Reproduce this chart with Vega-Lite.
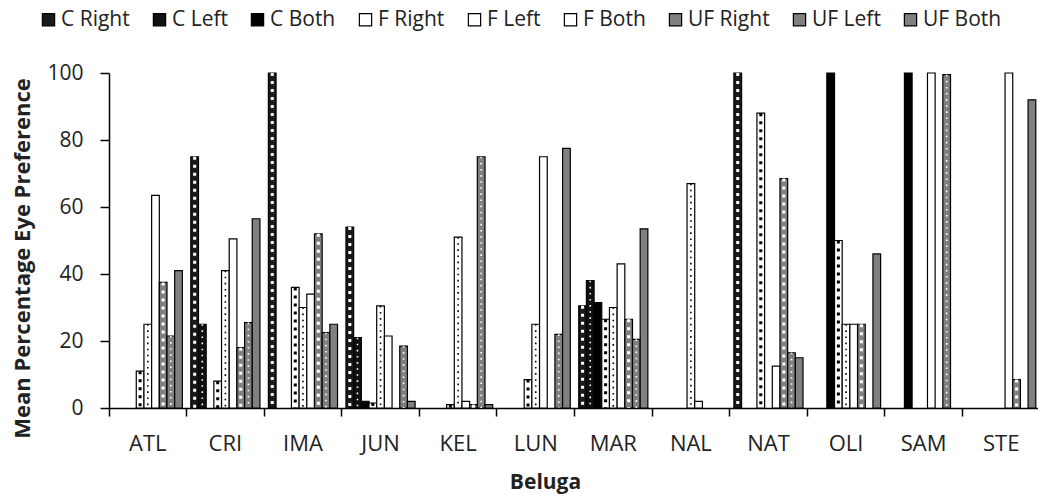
{
  "$schema": "https://vega.github.io/schema/vega-lite/v6.json",
  "autosize": {"type": "none"},
  "padding": {"left": 109, "top": 73, "right": 0, "bottom": 89},
  "width": 931,
  "height": 335,
  "background": "white",
  "config": {
    "view": {"stroke": null},
    "font": "Open Sans",
    "axis": {"labelFont": "Open Sans", "titleFont": "Open Sans", "labelColor": "#222", "titleColor": "#222", "domainColor": "#000", "tickColor": "#000", "domainWidth": 1.5, "tickWidth": 1.5, "grid": false}
  },
  "data": {"values": [
    {"beluga": "ATL", "series": "C Right", "value": 0},
    {"beluga": "ATL", "series": "C Left", "value": 0},
    {"beluga": "ATL", "series": "C Both", "value": 0},
    {"beluga": "ATL", "series": "F Right", "value": 11},
    {"beluga": "ATL", "series": "F Left", "value": 25},
    {"beluga": "ATL", "series": "F Both", "value": 63.5},
    {"beluga": "ATL", "series": "UF Right", "value": 37.5},
    {"beluga": "ATL", "series": "UF Left", "value": 21.5},
    {"beluga": "ATL", "series": "UF Both", "value": 41},
    {"beluga": "CRI", "series": "C Right", "value": 75},
    {"beluga": "CRI", "series": "C Left", "value": 25},
    {"beluga": "CRI", "series": "C Both", "value": 0},
    {"beluga": "CRI", "series": "F Right", "value": 8},
    {"beluga": "CRI", "series": "F Left", "value": 41},
    {"beluga": "CRI", "series": "F Both", "value": 50.5},
    {"beluga": "CRI", "series": "UF Right", "value": 18},
    {"beluga": "CRI", "series": "UF Left", "value": 25.5},
    {"beluga": "CRI", "series": "UF Both", "value": 56.5},
    {"beluga": "IMA", "series": "C Right", "value": 100},
    {"beluga": "IMA", "series": "C Left", "value": 0},
    {"beluga": "IMA", "series": "C Both", "value": 0},
    {"beluga": "IMA", "series": "F Right", "value": 36},
    {"beluga": "IMA", "series": "F Left", "value": 30},
    {"beluga": "IMA", "series": "F Both", "value": 34},
    {"beluga": "IMA", "series": "UF Right", "value": 52},
    {"beluga": "IMA", "series": "UF Left", "value": 22.5},
    {"beluga": "IMA", "series": "UF Both", "value": 25},
    {"beluga": "JUN", "series": "C Right", "value": 54},
    {"beluga": "JUN", "series": "C Left", "value": 21},
    {"beluga": "JUN", "series": "C Both", "value": 2},
    {"beluga": "JUN", "series": "F Right", "value": 1.5},
    {"beluga": "JUN", "series": "F Left", "value": 30.5},
    {"beluga": "JUN", "series": "F Both", "value": 21.5},
    {"beluga": "JUN", "series": "UF Right", "value": 0},
    {"beluga": "JUN", "series": "UF Left", "value": 18.5},
    {"beluga": "JUN", "series": "UF Both", "value": 2},
    {"beluga": "KEL", "series": "C Right", "value": 0},
    {"beluga": "KEL", "series": "C Left", "value": 0},
    {"beluga": "KEL", "series": "C Both", "value": 0},
    {"beluga": "KEL", "series": "F Right", "value": 1},
    {"beluga": "KEL", "series": "F Left", "value": 51},
    {"beluga": "KEL", "series": "F Both", "value": 2},
    {"beluga": "KEL", "series": "UF Right", "value": 1},
    {"beluga": "KEL", "series": "UF Left", "value": 75},
    {"beluga": "KEL", "series": "UF Both", "value": 1},
    {"beluga": "LUN", "series": "C Right", "value": 0},
    {"beluga": "LUN", "series": "C Left", "value": 0},
    {"beluga": "LUN", "series": "C Both", "value": 0},
    {"beluga": "LUN", "series": "F Right", "value": 8.5},
    {"beluga": "LUN", "series": "F Left", "value": 25},
    {"beluga": "LUN", "series": "F Both", "value": 75},
    {"beluga": "LUN", "series": "UF Right", "value": 0},
    {"beluga": "LUN", "series": "UF Left", "value": 22},
    {"beluga": "LUN", "series": "UF Both", "value": 77.5},
    {"beluga": "MAR", "series": "C Right", "value": 30.5},
    {"beluga": "MAR", "series": "C Left", "value": 38},
    {"beluga": "MAR", "series": "C Both", "value": 31.5},
    {"beluga": "MAR", "series": "F Right", "value": 26.5},
    {"beluga": "MAR", "series": "F Left", "value": 30},
    {"beluga": "MAR", "series": "F Both", "value": 43},
    {"beluga": "MAR", "series": "UF Right", "value": 26.5},
    {"beluga": "MAR", "series": "UF Left", "value": 20.5},
    {"beluga": "MAR", "series": "UF Both", "value": 53.5},
    {"beluga": "NAL", "series": "C Right", "value": 0},
    {"beluga": "NAL", "series": "C Left", "value": 0},
    {"beluga": "NAL", "series": "C Both", "value": 0},
    {"beluga": "NAL", "series": "F Right", "value": 0},
    {"beluga": "NAL", "series": "F Left", "value": 67},
    {"beluga": "NAL", "series": "F Both", "value": 2},
    {"beluga": "NAL", "series": "UF Right", "value": 0},
    {"beluga": "NAL", "series": "UF Left", "value": 0},
    {"beluga": "NAL", "series": "UF Both", "value": 0},
    {"beluga": "NAT", "series": "C Right", "value": 100},
    {"beluga": "NAT", "series": "C Left", "value": 0},
    {"beluga": "NAT", "series": "C Both", "value": 0},
    {"beluga": "NAT", "series": "F Right", "value": 88},
    {"beluga": "NAT", "series": "F Left", "value": 0},
    {"beluga": "NAT", "series": "F Both", "value": 12.5},
    {"beluga": "NAT", "series": "UF Right", "value": 68.5},
    {"beluga": "NAT", "series": "UF Left", "value": 16.5},
    {"beluga": "NAT", "series": "UF Both", "value": 15},
    {"beluga": "OLI", "series": "C Right", "value": 0},
    {"beluga": "OLI", "series": "C Left", "value": 0},
    {"beluga": "OLI", "series": "C Both", "value": 100},
    {"beluga": "OLI", "series": "F Right", "value": 50},
    {"beluga": "OLI", "series": "F Left", "value": 25},
    {"beluga": "OLI", "series": "F Both", "value": 25},
    {"beluga": "OLI", "series": "UF Right", "value": 25},
    {"beluga": "OLI", "series": "UF Left", "value": 0},
    {"beluga": "OLI", "series": "UF Both", "value": 46},
    {"beluga": "SAM", "series": "C Right", "value": 0},
    {"beluga": "SAM", "series": "C Left", "value": 0},
    {"beluga": "SAM", "series": "C Both", "value": 100},
    {"beluga": "SAM", "series": "F Right", "value": 0},
    {"beluga": "SAM", "series": "F Left", "value": 0},
    {"beluga": "SAM", "series": "F Both", "value": 100},
    {"beluga": "SAM", "series": "UF Right", "value": 0},
    {"beluga": "SAM", "series": "UF Left", "value": 99.5},
    {"beluga": "SAM", "series": "UF Both", "value": 0},
    {"beluga": "STE", "series": "C Right", "value": 0},
    {"beluga": "STE", "series": "C Left", "value": 0},
    {"beluga": "STE", "series": "C Both", "value": 0},
    {"beluga": "STE", "series": "F Right", "value": 0},
    {"beluga": "STE", "series": "F Left", "value": 0},
    {"beluga": "STE", "series": "F Both", "value": 100},
    {"beluga": "STE", "series": "UF Right", "value": 8.5},
    {"beluga": "STE", "series": "UF Left", "value": 0},
    {"beluga": "STE", "series": "UF Both", "value": 92}
  ]},
  "encoding": {
    "x": {"field": "beluga", "type": "nominal", "sort": null,
      "scale": {"paddingInner": 0, "paddingOuter": 0},
      "axis": {"title": "Beluga", "labelAngle": 0, "bandPosition": 0, "tickSize": 8, "labelPadding": 17, "labelFontSize": 22,
        "titleFontSize": 21, "titleFontWeight": "bold", "titleX": 436, "titleY": 80, "titleBaseline": "alphabetic"}},
    "xOffset": {"field": "series", "type": "nominal",
      "scale": {"domain": ["C Right", "C Left", "C Both", "F Right", "F Left", "F Both", "UF Right", "UF Left", "UF Both"], "paddingInner": 0, "paddingOuter": 0.55}},
    "y": {"field": "value", "type": "quantitative",
      "scale": {"domain": [0, 100], "nice": false},
      "axis": {"title": "Mean Percentage Eye Preference", "values": [0, 20, 40, 60, 80, 100], "tickSize": 9, "labelPadding": 17, "labelFontSize": 21,
        "titleFontSize": 22, "titleFontWeight": "bold", "titleAngle": -90, "titleX": -87, "titleY": 185, "titleAlign": "center", "titleBaseline": "middle"}}
  },
  "layer": [
    {
      "transform": [{"filter": "datum.value > 0"}],
      "mark": {"type": "bar", "stroke": "#000", "strokeWidth": 1.2},
      "encoding": {
        "color": {"field": "series", "type": "nominal",
          "scale": {"domain": ["C Right", "C Left", "C Both", "F Right", "F Left", "F Both", "UF Right", "UF Left", "UF Both"],
            "range": ["#1a1a1a", "#111111", "#000000", "#ffffff", "#ffffff", "#ffffff", "#808080", "#808080", "#808080"]},
          "legend": {"title": null, "orient": "none", "legendX": -71, "legendY": -64, "direction": "horizontal", "columns": 9,
            "symbolType": "square", "symbolSize": 150, "symbolStrokeColor": "#000", "symbolStrokeWidth": 1.2, "symbolOpacity": 1,
            "labelFont": "Open Sans", "labelFontSize": 21, "labelColor": "#222", "labelOffset": 2, "columnPadding": 19}}
      }
    },
    {
      "transform": [{"filter": "datum.value > 0 && (datum.series == 'C Right' || datum.series == 'UF Right')"}],
      "mark": {"type": "rule", "color": "#fff", "strokeWidth": 3, "strokeDash": [3, 5]},
      "encoding": {"y2": {"datum": 0}}
    },
    {
      "transform": [{"filter": "datum.value > 0 && datum.series == 'F Right'"}],
      "mark": {"type": "rule", "color": "#000", "strokeWidth": 3, "strokeDash": [3, 5]},
      "encoding": {"y2": {"datum": 0}}
    },
    {
      "transform": [{"filter": "datum.value > 0 && (datum.series == 'C Left' || datum.series == 'UF Left')"}],
      "mark": {"type": "rule", "color": "#fff", "strokeWidth": 1.6, "strokeDash": [1.6, 4.5]},
      "encoding": {"y2": {"datum": 0}}
    },
    {
      "transform": [{"filter": "datum.value > 0 && datum.series == 'F Left'"}],
      "mark": {"type": "rule", "color": "#000", "strokeWidth": 1.6, "strokeDash": [1.6, 4.5]},
      "encoding": {"y2": {"datum": 0}}
    }
  ]
}
